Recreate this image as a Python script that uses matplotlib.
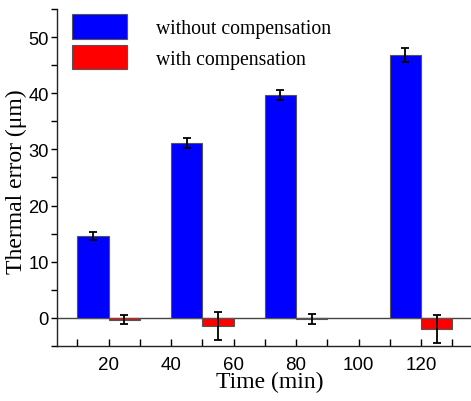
import numpy as np
import matplotlib.pyplot as plt
from matplotlib.ticker import MultipleLocator

# data
without_x = [15, 45, 75, 115]
without_val = [14.6, 31.2, 39.7, 46.8]
without_err = [0.65, 0.9, 0.85, 1.25]

with_x = [25, 55, 85, 125]
with_val = [-0.35, -1.45, -0.15, -2.0]
with_err = [0.8, 2.5, 0.9, 2.5]

xticks = [20, 40, 60, 80, 100, 120]

serif = "Liberation Serif"
sans = "Liberation Sans"

fig = plt.figure(figsize=(4.71, 4.02), dpi=100)
ax = fig.add_axes([0.121, 0.137, 0.879, 0.838])

ax.axhline(0, color="#444444", lw=1.0, zorder=1)
ax.bar(without_x, without_val, width=10, color="#0000ff", edgecolor="#555555",
       linewidth=0.8, label="without compensation", zorder=2)
ax.bar(with_x, with_val, width=10, color="#ff0000", edgecolor="#555555",
       linewidth=0.8, label="with compensation", zorder=2)
ax.errorbar(without_x, without_val, yerr=without_err, fmt="none", ecolor="black",
            elinewidth=1.3, capsize=3, capthick=1.3, zorder=3)
ax.errorbar(with_x, with_val, yerr=with_err, fmt="none", ecolor="black",
            elinewidth=1.3, capsize=3, capthick=1.3, zorder=3)

ax.set_xlim(3.5, 136)
ax.set_ylim(-5, 55)
ax.set_xticks(xticks)
ax.xaxis.set_minor_locator(MultipleLocator(10))
ax.yaxis.set_major_locator(MultipleLocator(10))
ax.yaxis.set_minor_locator(MultipleLocator(5))

for s in ["top", "right"]:
    ax.spines[s].set_visible(False)
for s in ["left", "bottom"]:
    ax.spines[s].set_linewidth(1.0)
    ax.spines[s].set_color("#222222")

ax.tick_params(axis="x", which="both", direction="in", length=5, width=1.0, pad=7)
ax.tick_params(axis="y", which="both", direction="out", length=4, width=1.0, pad=2)
for lab in ax.get_xticklabels():
    lab.set_fontfamily(sans)
    lab.set_fontsize(13.5)
for lab in ax.get_yticklabels():
    lab.set_fontfamily(sans)
    lab.set_fontsize(13.2)

ax.set_xlabel("Time (min)", family=serif, fontsize=17)
ax.set_ylabel("Thermal error (\u03bcm)", family=serif, fontsize=17)
ax.xaxis.set_label_coords(0.515, -0.075)
ax.yaxis.set_label_coords(-0.072, 0.49)

leg = ax.legend(loc="upper left", bbox_to_anchor=(0.036, 0.985), frameon=False,
                prop={"family": serif, "size": 14.2}, handlelength=2.8,
                handleheight=1.55, handletextpad=1.45, labelspacing=0.3,
                borderpad=0, borderaxespad=0)

fig.savefig("out.png", dpi=100)
